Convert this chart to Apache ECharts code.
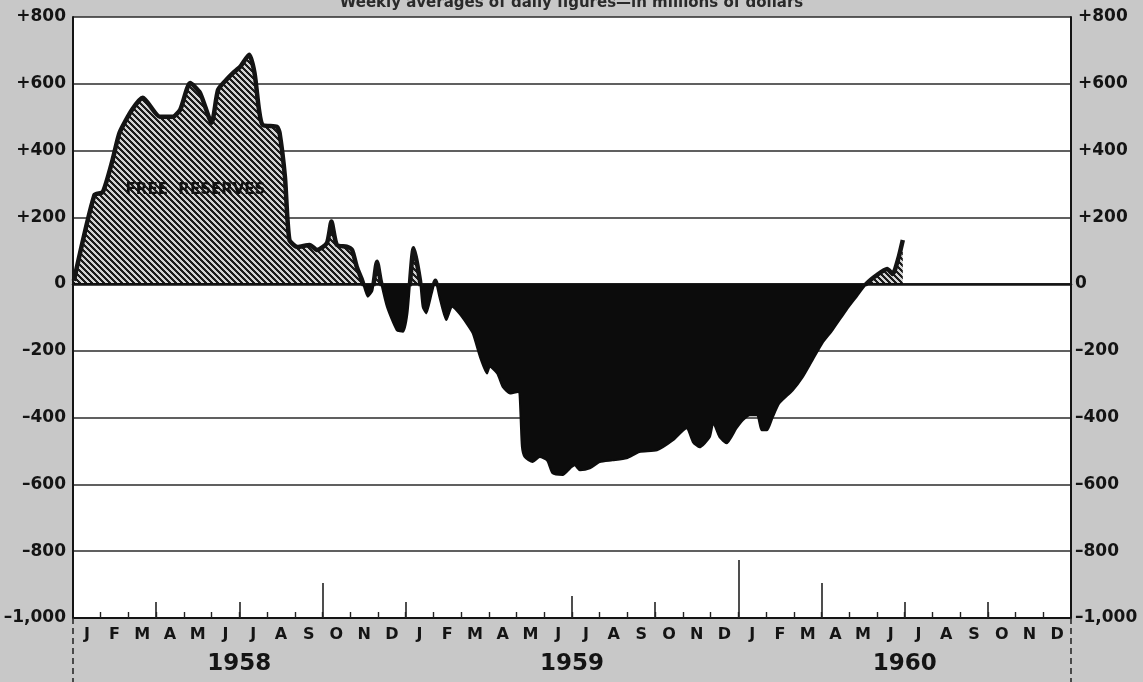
<!DOCTYPE html>
<html>
<head>
<meta charset="utf-8">
<title>Free Reserves 1958–1960</title>
<script src="https://cdn.jsdelivr.net/npm/echarts@6/dist/echarts.min.js"></script>
<style>
  html, body { margin: 0; padding: 0; background: #c8c8c8; }
  #chart { width: 1143px; height: 682px; }
</style>
</head>
<body>
<div id="chart"></div>
<script>
// Weekly free reserves of member banks, millions of dollars
const reserveDates = [
  '1958-01-02','1958-01-25','1958-02-03','1958-02-13','1958-02-20','1958-03-05','1958-03-17',
  '1958-04-05','1958-04-19','1958-04-27','1958-05-08','1958-05-19','1958-06-01','1958-06-08',
  '1958-06-17','1958-06-24','1958-07-02','1958-07-12','1958-07-18','1958-07-23','1958-07-27',
  '1958-08-12','1958-08-15','1958-08-21','1958-08-26','1958-09-04','1958-09-17','1958-09-25',
  '1958-10-06','1958-10-11','1958-10-17','1958-10-28','1958-11-03','1958-11-08','1958-11-14',
  '1958-11-20','1958-11-25','1958-11-30','1958-12-04','1958-12-11','1958-12-22','1958-12-29',
  '1959-01-03','1959-01-10','1959-01-17','1959-01-20','1959-01-24','1959-01-30','1959-02-03',
  '1959-02-07','1959-02-14','1959-02-20','1959-02-27','1959-03-07','1959-03-14','1959-03-22',
  '1959-03-30','1959-04-02','1959-04-10','1959-04-16','1959-04-24','1959-05-03','1959-05-07',
  '1959-05-10','1959-05-19','1959-05-27','1959-06-04','1959-06-10','1959-06-21','1959-06-29',
  '1959-07-04','1959-07-10','1959-07-21','1959-08-01','1959-08-15','1959-08-31','1959-09-14',
  '1959-10-03','1959-10-21','1959-11-05','1959-11-12','1959-11-19','1959-11-30','1959-12-04',
  '1959-12-11','1959-12-19','1959-12-30','1960-01-06','1960-01-14','1960-01-22','1960-01-27',
  '1960-02-02','1960-02-08','1960-02-15','1960-02-29','1960-03-11','1960-03-22','1960-04-02',
  '1960-04-13','1960-04-28','1960-05-09','1960-05-20','1960-06-01','1960-06-12','1960-06-18',
  '1960-06-24','1960-06-29'
];
const freeReserves = [
  10, 267, 275, 372, 453, 522, 558,
  501, 501, 522, 602, 573, 483, 582,
  612, 632, 651, 687, 632, 522, 477,
  471, 453, 321, 132, 111, 117, 102,
  123, 187, 117, 112, 102, 52, 10,
  -38, -20, 67, 10, -68, -138, -143,
  -88, 107, 10, -68, -88, -30, 10,
  -38, -108, -68, -88, -118, -148, -218,
  -268, -248, -268, -308, -328, -323, -488,
  -518, -533, -518, -528, -567, -572, -552,
  -543, -558, -552, -533, -528, -522, -503,
  -498, -468, -432, -474, -489, -459, -417,
  -459, -477, -432, -408, -393, -393, -438,
  -438, -399, -357, -318, -279, -228, -177,
  -138, -78, -39, 0, 27, 45, 30,
  75, 132
];

const monthLetters = ['J','F','M','A','M','J','J','A','S','O','N','D'];
const yearLabels = ['1958', '1959', '1960'];
const seriesLabel = 'FREE  RESERVES';
const seriesLabelAt = ['1958-05-14', 282];
const titleText = 'Weekly averages of daily figures\u2014in millions of dollars';

// tick marks along the bottom edge, by month boundary (months after Jan 1958)
const quarterTicks = [3, 6, 12, 21, 30, 33];
const midTicks = [18];
const longTicks = [9, 27];
const tallTicks = [24];

const FONT = '"DejaVu Sans", "Noto Sans", sans-serif';
const INK = '#141414';
const X_MIN = 0;    // January 1958
const X_MAX = 36;   // end of December 1960

// position of a date on the month scale (months after 1 Jan 1958)
function toMonths(dateStr) {
  const [y, m, d] = dateStr.split('-').map(Number);
  const days = new Date(y, m, 0).getDate();
  return (y - 1958) * 12 + (m - 1) + (d - 1) / days;
}

const monthBoundaries = Array.from({ length: 35 }, (_, i) => i + 1);
const monthCenters = Array.from({ length: 36 }, (_, i) => i + 0.5);
const yearCenters = yearLabels.map((_, i) => i * 12 + 6);

const seriesData = reserveDates.map((d, i) => [toMonths(d), freeReserves[i]]);

// diagonal "\" hatching for the positive area, set pixel by pixel
function makeHatch() {
  const n = 6;
  const c = document.createElement('canvas');
  c.width = n; c.height = n;
  const g = c.getContext('2d');
  const img = g.createImageData(n, n);
  for (let y = 0; y < n; y++) {
    for (let x = 0; x < n; x++) {
      const dark = ((x - y) % n + n) % n < 3;
      const v = dark ? 28 : 210;
      const i = (y * n + x) * 4;
      img.data[i] = img.data[i + 1] = img.data[i + 2] = v;
      img.data[i + 3] = 255;
    }
  }
  g.putImageData(img, 0, 0);
  return c;
}

const yLabelStyle = {
  fontFamily: FONT, fontWeight: 'bold', fontSize: 17, color: INK, margin: 7
};
const fmtUpper = v => (v > 0 ? '+' + v : '0');
const fmtLower = v => (v === 0 ? '0' : '\u2013' + Math.abs(v).toLocaleString('en-US'));

function baseX(gridIndex) {
  return {
    gridIndex, type: 'value', min: X_MIN, max: X_MAX, position: 'bottom',
    splitLine: { show: false }
  };
}

function tickAxis(values, length) {
  return Object.assign(baseX(1), {
    axisLine: { show: false, onZero: false },
    axisTick: { show: true, inside: true, length, customValues: values,
                lineStyle: { color: '#222', width: 1.6 } },
    axisLabel: { show: false }
  });
}

const gridBase = {
  left: 73, right: 72, show: true, backgroundColor: '#ffffff', borderWidth: 0,
  containLabel: false, outerBoundsMode: 'none'
};

const chart = echarts.init(document.getElementById('chart'), null, { renderer: 'canvas' });

chart.setOption({
  backgroundColor: '#c8c8c8',
  animation: false,
  title: {
    text: titleText, left: 'center', top: -9,
    textStyle: { fontFamily: FONT, fontSize: 15, fontWeight: 'bold', color: '#2a2a2a' }
  },
  grid: [
    Object.assign({ top: 17, height: 267 }, gridBase),
    Object.assign({ top: 284, height: 334 }, gridBase)
  ],
  xAxis: [
    Object.assign(baseX(0), {
      axisLine: { show: true, onZero: false, lineStyle: { color: INK, width: 2.5 } },
      axisTick: { show: false }, axisLabel: { show: false }
    }),
    Object.assign(baseX(1), {
      axisLine: { show: true, onZero: false, lineStyle: { color: INK, width: 2 } },
      axisTick: { show: true, inside: true, length: 6, customValues: monthBoundaries,
                  lineStyle: { color: '#222', width: 1.4 } },
      axisLabel: {
        customValues: monthCenters,
        formatter: v => monthLetters[Math.floor(v) % 12],
        margin: 9, fontFamily: FONT, fontWeight: 'bold', fontSize: 16, color: INK
      }
    }),
    tickAxis(quarterTicks, 16),
    tickAxis(midTicks, 22),
    tickAxis(longTicks, 35),
    tickAxis(tallTicks, 58),
    Object.assign(baseX(1), {
      axisLine: { show: false, onZero: false },
      axisTick: { show: true, inside: false, length: 64, customValues: [X_MIN, X_MAX],
                  lineStyle: { color: '#2a2a2a', width: 1.6, type: [6, 4] } },
      axisLabel: {
        customValues: yearCenters,
        formatter: v => yearLabels[Math.floor(v / 12)],
        margin: 35, fontFamily: FONT, fontWeight: 'bold', fontSize: 23, color: INK
      }
    })
  ],
  yAxis: [
    {
      gridIndex: 0, type: 'value', position: 'left', min: 0, max: 800, interval: 200,
      axisLine: { show: true, lineStyle: { color: INK, width: 2 } },
      axisTick: { show: false },
      axisLabel: Object.assign({ formatter: fmtUpper, showMinLabel: false }, yLabelStyle),
      splitLine: { show: true, lineStyle: { color: '#2b2b2b', width: 1.6 } }
    },
    {
      gridIndex: 0, type: 'value', position: 'right', min: 0, max: 800, interval: 200,
      axisLine: { show: true, lineStyle: { color: INK, width: 2 } },
      axisTick: { show: false },
      axisLabel: Object.assign({ formatter: fmtUpper, showMinLabel: false }, yLabelStyle),
      splitLine: { show: false }
    },
    {
      gridIndex: 1, type: 'value', position: 'left', min: -1000, max: 0, interval: 200,
      axisLine: { show: true, onZero: false, lineStyle: { color: INK, width: 2 } },
      axisTick: { show: false },
      axisLabel: Object.assign({ formatter: fmtLower }, yLabelStyle),
      splitLine: { show: true, lineStyle: { color: '#2b2b2b', width: 1.6 } }
    },
    {
      gridIndex: 1, type: 'value', position: 'right', min: -1000, max: 0, interval: 200,
      axisLine: { show: true, onZero: false, lineStyle: { color: INK, width: 2 } },
      axisTick: { show: false },
      axisLabel: Object.assign({ formatter: fmtLower }, yLabelStyle, { margin: 4 }),
      splitLine: { show: false }
    }
  ],
  series: [
    {
      // surplus: hatched, clipped to the upper panel
      name: 'Free reserves', type: 'line', xAxisIndex: 0, yAxisIndex: 0,
      data: seriesData, symbol: 'none', smooth: 0.2, clip: true,
      lineStyle: { color: INK, width: 4.5, join: 'round' },
      areaStyle: { color: { image: makeHatch(), repeat: 'repeat' }, opacity: 1 },
      markPoint: {
        symbol: 'circle', symbolSize: 1,
        itemStyle: { color: 'rgba(0,0,0,0)' },
        label: {
          show: true, position: 'inside', formatter: seriesLabel,
          fontFamily: FONT, fontWeight: 'bold', fontSize: 15, color: '#111'
        },
        data: [{ coord: [toMonths(seriesLabelAt[0]), seriesLabelAt[1]] }]
      },
      z: 3
    },
    {
      // net borrowed reserves: solid black, clipped to the lower panel
      name: 'Net borrowed reserves', type: 'line', xAxisIndex: 1, yAxisIndex: 2,
      data: seriesData, symbol: 'none', smooth: 0.2, clip: true,
      lineStyle: { color: '#0c0c0c', width: 2, join: 'round' },
      areaStyle: { color: '#0c0c0c', opacity: 1 },
      z: 3
    }
  ]
});
</script>
</body>
</html>
